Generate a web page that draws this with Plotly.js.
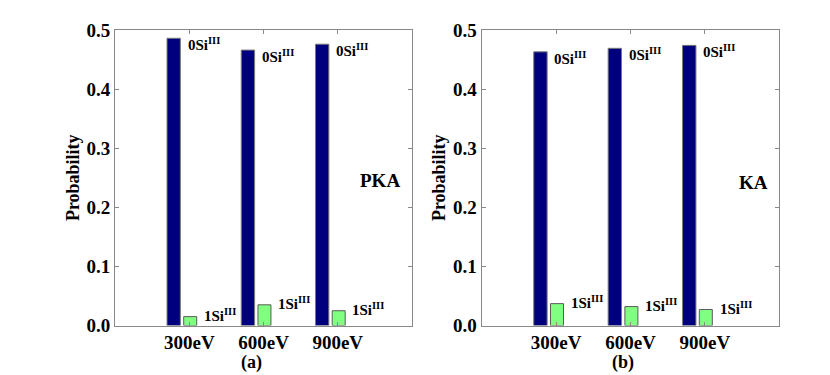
<!DOCTYPE html>
<html>
<head>
<meta charset="utf-8">
<script src="https://cdn.plot.ly/plotly-3.0.1.min.js"></script>
<style>
  html, body { margin: 0; padding: 0; background: #fff; }
  #plot { width: 830px; height: 375px; }
</style>
</head>
<body>
<div id="plot"></div>
<script>
// energies (categories)
var energyPos = [1, 2, 3];
var energyLabels = ["300eV", "600eV", "900eV"];

// panel (a) PKA
var pka0Si = [0.486, 0.466, 0.476];
var pka1Si = [0.015, 0.035, 0.025];

// panel (b) KA
var ka0Si = [0.463, 0.469, 0.474];
var ka1Si = [0.037, 0.032, 0.027];

var label0 = "0Si<sup>III</sup>";
var label1 = "1Si<sup>III</sup>";

var serif = "Liberation Serif, Times New Roman, serif";
var navy = "#00007F";
var green = "#80FF80";

function blueTrace(y, xa, ya) {
    return {
        x: energyPos, y: y, xaxis: xa, yaxis: ya,
        type: "bar", offset: -0.30, width: 0.18,
        marker: {color: navy, line: {color: "#7a7a7a", width: 1}},
        hoverinfo: "y"
    };
}

function greenTrace(y, xa, ya) {
    return {
        x: energyPos, y: y, xaxis: xa, yaxis: ya,
        type: "bar", offset: -0.075, width: 0.175,
        marker: {color: green, line: {color: "#5a5a5a", width: 1}},
        hoverinfo: "y"
    };
}

var data = [
    blueTrace(pka0Si, "x", "y"),
    greenTrace(pka1Si, "x", "y"),
    blueTrace(ka0Si, "x2", "y2"),
    greenTrace(ka1Si, "x2", "y2")
];

var tickFont = {family: serif, size: 19, color: "#000", weight: "bold"};

function xAxis(domain, anchor) {
    return {
        domain: domain, anchor: anchor,
        range: [0, 4],
        tickmode: "array", tickvals: energyPos, ticktext: energyLabels,
        ticks: "inside", ticklen: 4, tickcolor: "#888",
        showline: true, linecolor: "#888", linewidth: 1, mirror: "ticks",
        showgrid: false, zeroline: false,
        tickfont: tickFont
    };
}

function yAxis(domain, anchor) {
    return {
        domain: domain, anchor: anchor,
        range: [0, 0.5], dtick: 0.1, tickformat: ".1f",
        ticks: "inside", ticklen: 4, tickcolor: "#888",
        showline: true, linecolor: "#888", linewidth: 1, mirror: "ticks",
        showgrid: false, zeroline: false,
        tickfont: tickFont,
        title: {text: "Probability", standoff: 2,
                font: {family: serif, size: 18, color: "#000", weight: "bold"}}
    };
}

var annotations = [];
var labelFont = {family: serif, size: 15, color: "#000", weight: "bold"};

function addLabels(xa, ya, top, low) {
    for (var i = 0; i < energyPos.length; i++) {
        annotations.push({
            xref: xa, yref: ya, x: energyPos[i] - 0.05, y: top[i],
            text: label0, showarrow: false, xanchor: "left", yanchor: "middle",
            yshift: -6, font: labelFont
        });
        annotations.push({
            xref: xa, yref: ya, x: energyPos[i] + 0.17, y: low[i],
            text: label1, showarrow: false, xanchor: "left", yanchor: "middle",
            yshift: 2, font: labelFont
        });
    }
}
addLabels("x", "y", pka0Si, pka1Si);
addLabels("x2", "y2", ka0Si, ka1Si);

var bigFont = {family: serif, size: 19, color: "#000", weight: "bold"};
annotations.push({xref: "x", yref: "y", x: 3.86, y: 0.245, text: "PKA",
    showarrow: false, xanchor: "right", yanchor: "middle", font: bigFont});
annotations.push({xref: "x2", yref: "y2", x: 3.87, y: 0.242, text: "KA",
    showarrow: false, xanchor: "right", yanchor: "middle", font: bigFont});

var capFont = {family: serif, size: 18, color: "#000", weight: "bold"};
annotations.push({xref: "paper", yref: "paper", x: 251 / 830, y: 1 - 362 / 375,
    text: "(a)", showarrow: false, xanchor: "center", yanchor: "middle", font: capFont});
annotations.push({xref: "paper", yref: "paper", x: 623 / 830, y: 1 - 362 / 375,
    text: "(b)", showarrow: false, xanchor: "center", yanchor: "middle", font: capFont});

var layout = {
    width: 830, height: 375,
    margin: {t: 0, l: 0, r: 0, b: 0},
    showlegend: false,
    plot_bgcolor: "#fff", paper_bgcolor: "#fff",
    bargap: 0,
    xaxis: xAxis([0.1386, 0.4964], "y"),
    yaxis: yAxis([0.132, 0.92], "x"),
    xaxis2: xAxis([0.5803, 0.9389], "y2"),
    yaxis2: yAxis([0.132, 0.92], "x2"),
    annotations: annotations
};

Plotly.newPlot("plot", data, layout, {displayModeBar: false, staticPlot: true});
</script>
</body>
</html>
